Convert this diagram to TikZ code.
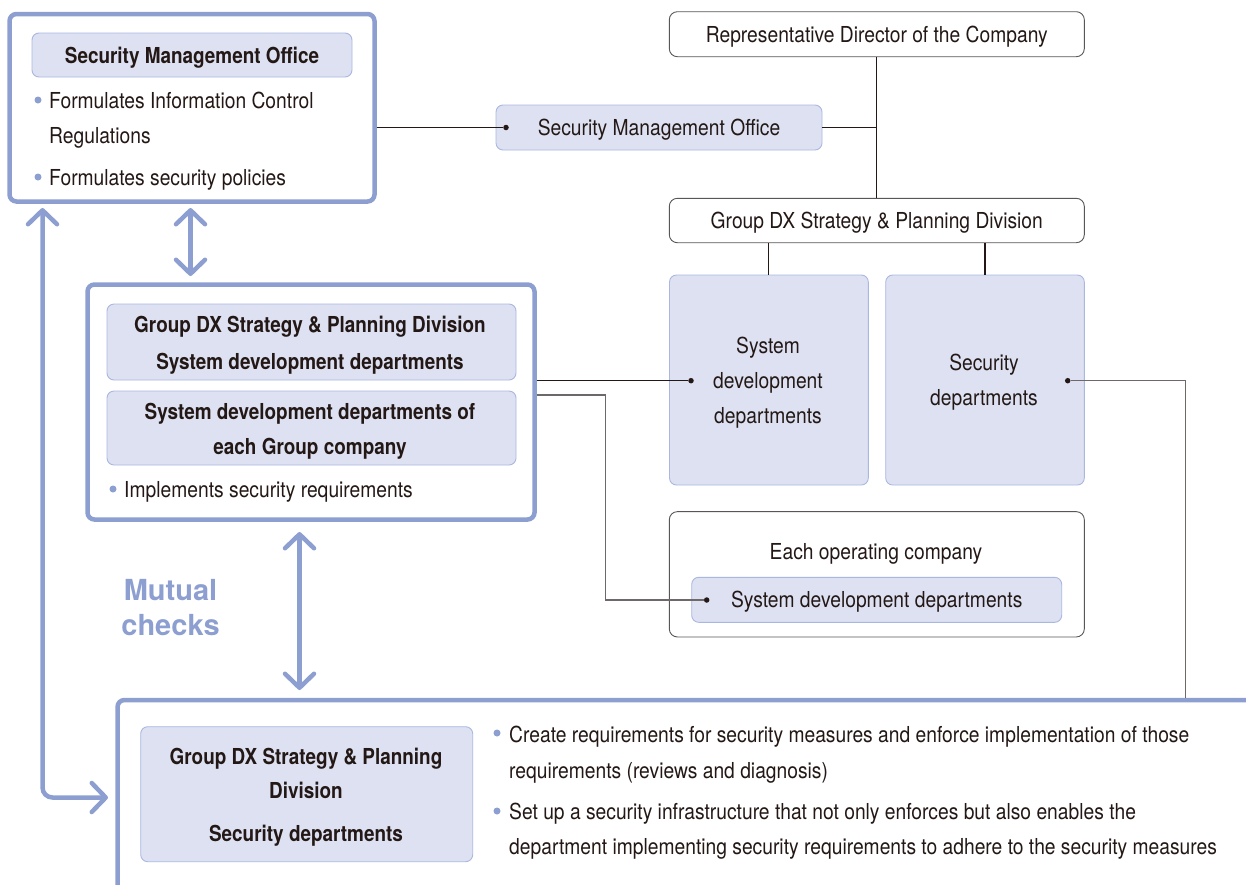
\documentclass[tikz,border=0pt]{standalone}
\usepackage{fontspec}
\setmainfont{TeX Gyre Heros}[FakeStretch=0.875, BoldFeatures={FakeStretch=0.86}]
\newfontfamily\mutfont{TeX Gyre Heros}
\usetikzlibrary{arrows.meta}
\definecolor{mblue}{HTML}{8D9FD1}
\definecolor{pfill}{HTML}{DDE1F2}
\definecolor{lblue}{HTML}{AAB7E1}
\definecolor{gbd}{HTML}{5A5556}
\definecolor{ink}{HTML}{231815}
\definecolor{gline}{HTML}{6E6868}
\newcommand\fsn{\fontsize{22}{26}\selectfont}
\newcommand\fsm{\mutfont\bfseries\fontsize{29}{34}\selectfont}
\tikzset{mybarb/.tip={Straight Barb[length=14pt, width=29pt, round]}}
\begin{document}
\begin{tikzpicture}[x=1pt,y=-1pt,
  obox/.style={draw=mblue, line width=4.5pt, rounded corners=7pt, fill=white, inner sep=0pt},
  fbox/.style={draw=lblue, fill=pfill, line width=0.9pt, rounded corners=7pt, inner sep=0pt,
     text=ink, font=\fsn, text height=16pt, text depth=0pt},
  wbox/.style={draw=gbd, fill=white, line width=0.9pt, rounded corners=8pt, inner sep=0pt,
     text=ink, font=\fsn, text height=16pt, text depth=0pt},
  txt/.style={inner sep=0pt, text=ink, font=\fsn, text height=16pt, text depth=0pt},
  btxt/.style={txt, font=\fsn\bfseries},
  mtxt/.style={inner sep=0pt, text=mblue, font=\fsm, text height=21pt, text depth=0pt},
  bdot/.style={circle, fill=mblue, inner sep=0pt, minimum size=7pt},
  cdot/.style={circle, fill=ink, inner sep=0pt, minimum size=5.5pt},
  conn/.style={draw=ink, line width=1.1pt},
  conng/.style={draw=gline, line width=1.1pt},
  arr/.style={draw=mblue, line width=4.5pt, line cap=round, line join=round},
]
\clip (0,0) rectangle (1246,884);

% ---------- Box A ----------
\node[obox, minimum width=365pt, minimum height=187.5pt] (A) at (192,107.75) {};
\node[fbox, minimum width=320pt, minimum height=44pt, font=\fsn\bfseries] (Ah) at (192,55) {Security Management Office};
\node[bdot] (Ad1) at (38,100) {};
\node[txt, anchor=west] (At1) at (49,100) {Formulates Information Control};
\node[txt, anchor=west] (At2) at (49,135) {Regulations};
\node[bdot] (Ad2) at (38,177) {};
\node[txt, anchor=west] (At3) at (49,177) {Formulates security policies};

% ---------- right organisation chart ----------
\node[wbox, minimum width=415pt, minimum height=45pt] (rep) at (876.8,34.2) {Representative Director of the Company};
\node[fbox, minimum width=326pt, minimum height=45pt] (smo) at (659,127.5) {Security Management Office};
\node[cdot] (smodot) at (506,127.5) {};
\node[wbox, minimum width=415pt, minimum height=44.4pt] (gdx) at (876.8,220.5) {Group DX Strategy \& Planning Division};
\node[fbox, minimum width=198.8pt, minimum height=210pt] (sysd) at (768.9,380) {};
\node[txt] (sysd1) at (768,345) {System};
\node[txt] (sysd2) at (768,380) {development};
\node[txt] (sysd3) at (768,415) {departments};
\node[cdot] (sysdot) at (691,380.7) {};
\node[fbox, minimum width=198.6pt, minimum height=210pt] (sec) at (985,380) {};
\node[txt] (sec1) at (984,362) {Security};
\node[txt] (sec2) at (984,397) {departments};
\node[cdot] (secdot) at (1067.7,380.7) {};
\node[wbox, minimum width=415pt, minimum height=125.3pt] (op) at (876.8,574.3) {};
\node[txt] (opt) at (876,551) {Each operating company};
\node[fbox, minimum width=370pt, minimum height=45pt] (opin) at (876.7,599.8) {System development departments};
\node[cdot] (opdot) at (706.7,600) {};

% ---------- Box B ----------
\node[obox, minimum width=447pt, minimum height=235pt] (B) at (311,402) {};
\node[fbox, minimum width=409pt, minimum height=76pt] (B1) at (311.5,342) {};
\node[btxt] (B1a) at (310,324) {Group DX Strategy \& Planning Division};
\node[btxt] (B1b) at (310,361) {System development departments};
\node[fbox, minimum width=409pt, minimum height=74pt] (B2) at (311.5,428) {};
\node[btxt] (B2a) at (310,411) {System development departments of};
\node[btxt] (B2b) at (310,446) {each Group company};
\node[bdot] (Bd) at (113,489) {};
\node[txt, anchor=west] (Bt) at (124,489) {Implements security requirements};

% ---------- Box C ----------
\node[obox, minimum width=1282.5pt, minimum height=350pt] (C) at (758.75,875) {};
\node[fbox, minimum width=332pt, minimum height=135pt] (Cin) at (306.7,794.2) {};
\node[btxt] (Ct1) at (306,756.7) {Group DX Strategy \& Planning};
\node[btxt] (Ct2) at (306,790) {Division};
\node[btxt] (Ct3) at (306,833.3) {Security departments};
\node[bdot] (Cd1) at (497,733) {};
\node[txt, anchor=west] (Cb1) at (509,734) {Create requirements for security measures and enforce implementation of those};
\node[txt, anchor=west] (Cb2) at (509,770) {requirements (reviews and diagnosis)};
\node[bdot] (Cd2) at (497,811) {};
\node[txt, anchor=west] (Cb3) at (509,811) {Set up a security infrastructure that not only enforces but also enables the};
\node[txt, anchor=west] (Cb4) at (509,846) {department implementing security requirements to adhere to the security measures};

% ---------- Mutual checks ----------
\node[mtxt] (mut1) at (170.5,590) {Mutual};
\node[mtxt] (mut2) at (170.5,625) {checks};

% ---------- connectors ----------
\draw[conn] (A.east |- smodot) -- (smodot);
\draw[conn] (smo.east) -- (smo.east -| rep.south);
\draw[conn] (rep.south) -- (gdx.north);
\draw[conn] (gdx.south -| sysd.north) -- (sysd.north);
\draw[conn] (gdx.south -| sec.north) -- (sec.north);
\draw[conn] (B.east |- sysdot) -- (sysdot);
\coordinate (bk) at (605.7,395);
\draw[conng] (B.east |- bk) -- (bk) |- (opdot);
\coordinate (sk) at (1185.3,380.7);
\draw[conng] (secdot) -- (sk) -- (sk |- C.north);

% ---------- blue arrows ----------
\coordinate (ab) at (190.5,0);
\draw[arr, mybarb-mybarb] ([yshift=-4.25pt]A.south -| ab) -- ([yshift=6.25pt]B.north -| ab);
\coordinate (bc) at (299.5,0);
\draw[arr, mybarb-mybarb] ([yshift=-10.25pt]B.south -| bc) -- ([yshift=7.75pt]C.north -| bc);
\coordinate (lc) at (42.5,797.5);
\draw[arr, rounded corners=10pt, mybarb-mybarb] ([yshift=-4.25pt]A.south -| lc) |- ([xshift=-7.25pt]C.west |- lc);
\end{tikzpicture}
\end{document}
